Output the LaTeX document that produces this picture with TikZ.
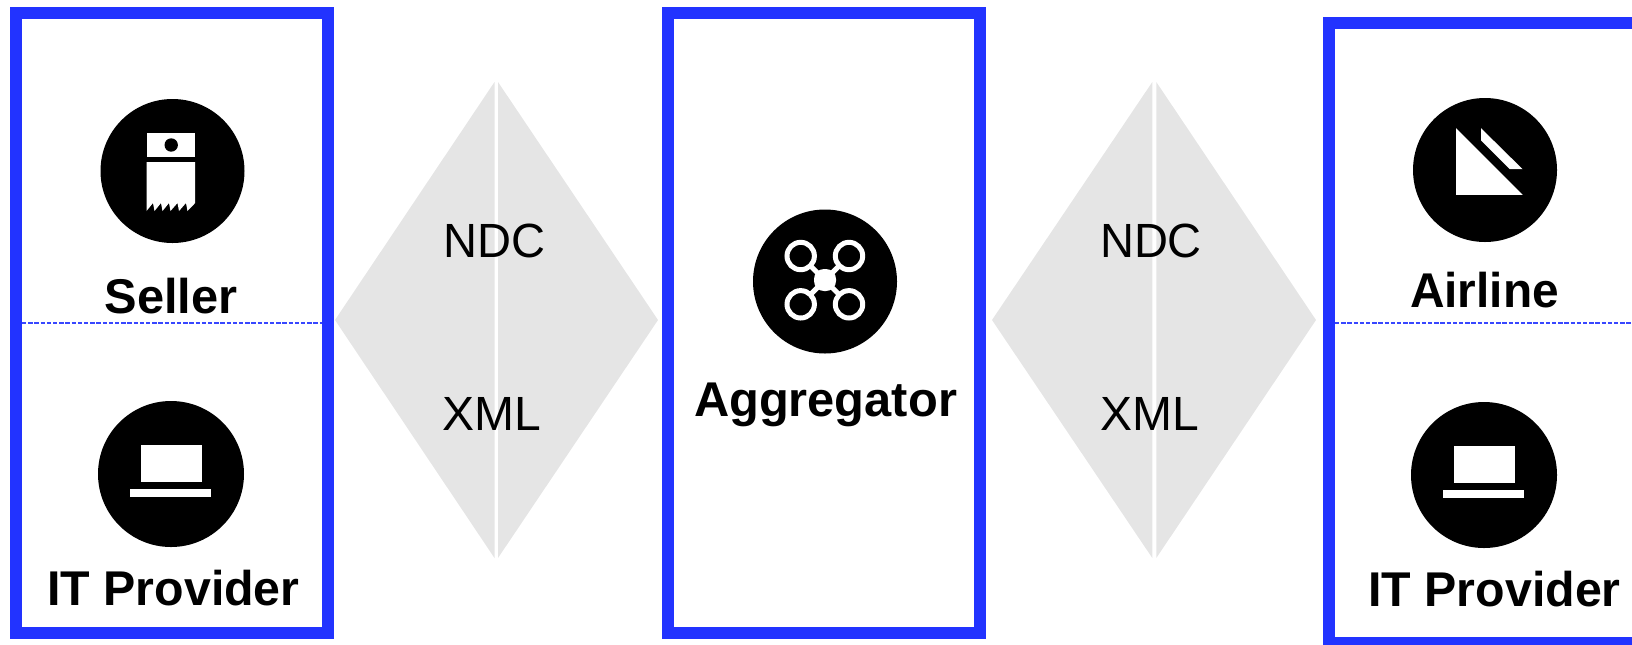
\documentclass[tikz,border=0pt]{standalone}
\usepackage{fontspec}
\setmainfont{Liberation Sans}
\definecolor{boxblue}{HTML}{2233FF}
\definecolor{diagrey}{HTML}{E5E5E5}
\tikzset{
  x=0.5pt,y=-0.5pt,
  panel/.style={draw=boxblue,line width=6pt,fill=none,miter limit=10},
  divider/.style={draw=boxblue!90,line width=0.55pt,dash pattern=on 2.2pt off 0.9pt},
  halfdia/.style={fill=diagrey,draw=none},
  disc/.style={fill=black,draw=none},
  glyph/.style={fill=white,draw=none},
  ringline/.style={draw=white,line width=2.5pt},
  proto/.style={inner sep=0pt,anchor=base,font=\fontsize{24}{24}\selectfont},
  role/.style={inner sep=0pt,anchor=base,font=\fontsize{24.4}{24.4}\selectfont\bfseries},
}
\newcommand{\lapicon}[2]{%
  \begin{scope}[shift={(#1,#2)}]
    \fill[disc] (0,0) circle[radius=73];
    \fill[glyph] (-30.5,-29) rectangle (30.5,7.7);
    \fill[glyph] (-41.5,14.7) rectangle (39.5,23);
  \end{scope}}
\begin{document}
\begin{tikzpicture}
\useasboundingbox (0,0) rectangle (1632,644);
\clip (0,0) rectangle (1632,644);
% panels
\draw[panel] (16,12.5) rectangle (327.5,633);
\draw[panel] (668,12.5) rectangle (980,633);
\draw[panel] (1329,22.5) rectangle (1700,643);
% dividers
\coordinate (dl1) at (22,323); \coordinate (dl2) at (321.5,323);
\coordinate (dr1) at (1335,323); \coordinate (dr2) at (1632,323);
\draw[divider] (dl1) -- (dl2);
\draw[divider] (dr1) -- (dr2);
% diamonds
\fill[halfdia] (335,320) -- (494.5,82) -- (494.5,558) -- cycle;
\fill[halfdia] (498,82) -- (658,320) -- (498,558) -- cycle;
\fill[halfdia] (992,320) -- (1152.3,82) -- (1152.3,558) -- cycle;
\fill[halfdia] (1156.3,82) -- (1316,320) -- (1156.3,558) -- cycle;
% protocol labels
\node[proto] (ndca) at (494.5,257) {\scalebox{.98}[1]{NDC}};
\node[proto] (xmla) at (492,430.5) {\scalebox{1.0}[1]{XML}};
\node[proto] (ndcb) at (1151,257) {\scalebox{.98}[1]{NDC}};
\node[proto] (xmlb) at (1150,430.5) {\scalebox{1.0}[1]{XML}};
% seller icon
\begin{scope}[shift={(0.5,1)}]
\fill[disc] (172,170) circle[radius=72];
\fill[glyph] (146,131.7) rectangle (194.7,156);
\fill[disc] (170.7,144) circle[radius=6.7];
\fill[glyph] (146,161) -- (194.7,161) -- (194.7,202)
  -- (187,210) -- (185.5,202) -- (178.5,210) -- (177,202) -- (170,210) -- (168.5,202)
  -- (162,210) -- (160.5,202) -- (154,210) -- (152.5,202) -- (146,210) -- cycle;
\end{scope}
% laptops
\lapicon{171}{474}
\lapicon{1484}{475}
% drone icon
\begin{scope}[shift={(0,1)}]
\fill[disc] (825,280.5) circle[radius=72];
\draw[ringline] (800.7,255) -- (849,303.3) (849,255) -- (800.7,303.3);
\foreach \cx/\cy in {800.7/255,849/255,800.7/303.3,849/303.3}{
  \fill[disc] (\cx,\cy) circle[radius=14];
  \draw[ringline] (\cx,\cy) circle[radius=13.7];
}
\fill[glyph,rounded corners=5pt] (814,268) rectangle (836,290);
\end{scope}
% airline icon
\begin{scope}[shift={(0,0.5)}]
\fill[disc] (1485,169.5) circle[radius=72];
\fill[glyph] (1456,127.7) -- (1522.7,194.3) -- (1456,194.3) -- cycle;
\fill[glyph] (1481,127.7) -- (1522.5,168.6) -- (1509.6,168.6) -- (1481,140) -- cycle;
\end{scope}
% role labels
\node[role] (seller) at (171,313) {Seller};
\node[role] (itl) at (173.5,605) {\scalebox{.99}[1]{IT Provider}};
\node[role] (agg) at (825.5,416) {Aggregator};
\node[role] (airline) at (1484.5,307.3) {\scalebox{.98}[1]{Airline}};
\node[role] (itr) at (1494.5,606.5) {\scalebox{.99}[1]{IT Provider}};
\end{tikzpicture}
\end{document}
